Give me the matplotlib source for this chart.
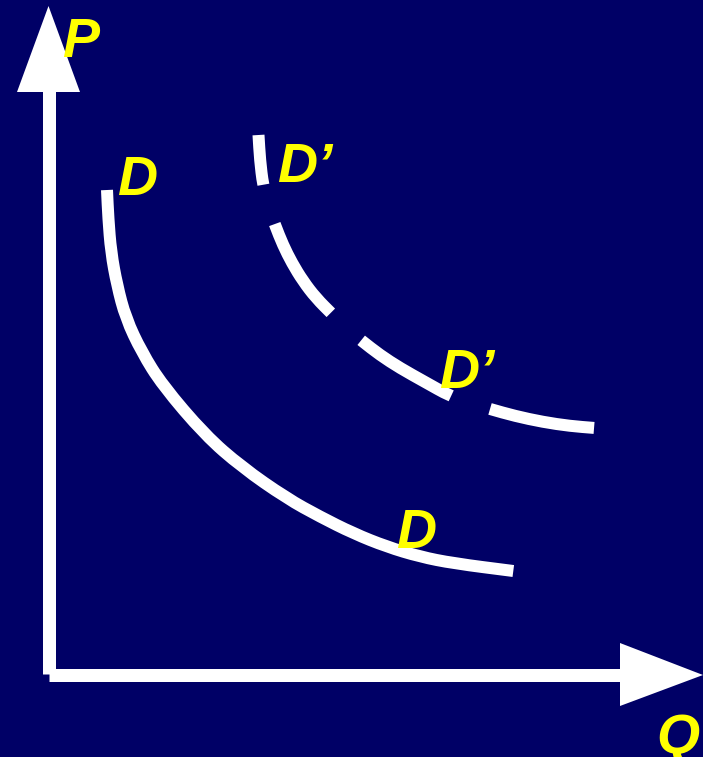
import matplotlib
matplotlib.use("Agg")
import matplotlib.pyplot as plt
from matplotlib.patches import Polygon, PathPatch
from matplotlib.path import Path

# picture is laid out in pixel units (x right, y down)
BG = '#000066'
YELLOW = '#ffff00'

# demand curve D (solid)
d_x = [107, 108.3, 111, 117, 125.7, 141.7, 162.3, 205, 241.7, 286.7, 320, 353.3, 386.7, 420, 453.3, 513.3]
d_y = [190, 218, 252, 285, 318, 352, 385, 435, 467, 498.3, 516.7, 533.3, 546.7, 556.7, 563.3, 571]

# shifted demand curve D' (dashed)
d2_x = [258.5, 260, 263, 268, 275, 283, 292, 303, 316, 332, 346, 362, 380, 400, 425, 450,
        470, 490, 515, 543, 570, 595]
d2_y = [135, 160, 185, 205, 225, 245, 263, 281, 298, 314, 328, 341, 355, 368, 382, 396,
        403, 409, 416, 422, 426, 428]

# axes: lines and arrow heads
p_axis_x = [48.5, 48.5]
p_axis_y = [674, 90]
q_axis_x = [48.7, 622]
q_axis_y = [675, 675]
p_head = [(17, 92), (80, 92), (48.5, 6)]
q_head = [(620, 643), (620, 706), (703, 675)]

# labels: (text, left x, baseline y)
labels = [
    ('P', 62, 57),
    ('D', 117, 195),
    ('D\u2019', 277, 182),
    ('D\u2019', 439, 388),
    ('D', 396, 548),
    ('Q', 656, 753),
]


def smooth_path(xs, ys):
    # quadratic b-spline: points are control points, midpoints are on the curve
    pts = list(zip(xs, ys))
    verts = [pts[0], ((pts[0][0] + pts[1][0]) / 2, (pts[0][1] + pts[1][1]) / 2)]
    codes = [Path.MOVETO, Path.LINETO]
    for i in range(1, len(pts) - 1):
        nxt = pts[i + 1]
        mid = ((pts[i][0] + nxt[0]) / 2, (pts[i][1] + nxt[1]) / 2)
        verts += [pts[i], mid]
        codes += [Path.CURVE3, Path.CURVE3]
    verts.append(pts[-1])
    codes.append(Path.LINETO)
    return Path(verts, codes)


plt.rcParams['lines.scale_dashes'] = False
plt.rcParams['font.family'] = ['Liberation Sans', 'DejaVu Sans']

fig = plt.figure(figsize=(7.03, 7.57), dpi=100, facecolor=BG)
ax = fig.add_axes([0, 0, 1, 1])
ax.set_facecolor(BG)
ax.set_xlim(0, 703)
ax.set_ylim(757, 0)
ax.axis('off')

px = 0.72  # points per pixel at dpi 100

ax.plot(p_axis_x, p_axis_y, color='white', lw=13 * px, solid_capstyle='butt')
ax.plot(q_axis_x, q_axis_y, color='white', lw=13 * px, solid_capstyle='butt')
ax.add_patch(Polygon(p_head, closed=True, color='white', lw=0))
ax.add_patch(Polygon(q_head, closed=True, color='white', lw=0))

d_patch = PathPatch(smooth_path(d_x, d_y), fill=False, edgecolor='white', lw=12 * px,
                    capstyle='butt', joinstyle='round')
ax.add_patch(d_patch)
d2_patch = PathPatch(smooth_path(d2_x, d2_y), fill=False, edgecolor='white', lw=12 * px,
                     linestyle=(56 * px, (106 * px, 41 * px)), capstyle='butt', joinstyle='round')
ax.add_patch(d2_patch)

for txt, x, y in labels:
    ax.text(x, y, txt, color=YELLOW, fontsize=40, fontweight='bold', fontstyle='italic',
            ha='left', va='baseline')

fig.savefig('out.png', dpi=100, facecolor=BG)
